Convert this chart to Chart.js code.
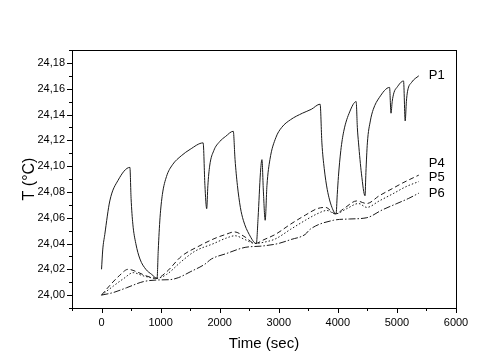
<!DOCTYPE html>
<html>
<head>
<meta charset="utf-8">
<script src="https://cdn.jsdelivr.net/npm/chart.js@4.4.1/dist/chart.umd.min.js"></script>
<style>
  html, body { margin:0; padding:0; background:#fff; }
  #wrap { width:502px; height:363px; }
</style>
</head>
<body>
<div id="wrap"><canvas id="chart" width="502" height="363"></canvas></div>
<script>
/* temperature at the probes vs time */
const p1Time = [0, 20, 55, 140, 280, 480, 500, 530, 580, 650, 750, 850, 940,
  960, 990, 1030, 1100, 1200, 1350, 1500, 1720, 1750, 1780, 1800, 1830, 1900, 2000, 2100, 2230,
  2260, 2300, 2350, 2400, 2500, 2620, 2650, 2690, 2715, 2740, 2770, 2800, 2850, 2950, 3050, 3200,
  3400, 3550, 3700, 3730, 3770, 3820, 3900, 3970, 3990, 4010, 4050, 4100, 4200, 4310, 4330, 4350,
  4400, 4460, 4475, 4500, 4550, 4600, 4700, 4875, 4900, 4920, 4950, 5000, 5112, 5140, 5160, 5180,
  5250, 5370];
const p1Temp = [24.020, 24.035, 24.047, 24.073, 24.089, 24.099, 24.075, 24.055, 24.040, 24.028, 24.020, 24.016, 24.013,
  24.035, 24.060, 24.078, 24.092, 24.101, 24.108, 24.113, 24.118, 24.085, 24.067, 24.085, 24.100, 24.112, 24.119, 24.123, 24.127,
  24.105, 24.085, 24.068, 24.058, 24.047, 24.040, 24.060, 24.095, 24.105, 24.080, 24.058, 24.085, 24.105, 24.122, 24.130, 24.136,
  24.141, 24.144, 24.148, 24.118, 24.098, 24.082, 24.068, 24.063, 24.078, 24.092, 24.112, 24.127, 24.142, 24.150, 24.130, 24.118,
  24.094, 24.077, 24.095, 24.118, 24.135, 24.144, 24.153, 24.161, 24.141, 24.150, 24.157, 24.161, 24.166, 24.135, 24.150, 24.158,
  24.165, 24.170];

const p4Time = [0, 150, 300, 450, 600, 750, 930, 1100, 1350, 1650, 1920, 2100, 2250, 2430, 2600, 2750, 2940,
  3200, 3450, 3650, 3790, 3960, 4100, 4320, 4490, 4700, 4900, 5100, 5370];
const p4Temp = [24.000, 24.008, 24.015, 24.020, 24.018, 24.015, 24.013, 24.018, 24.030, 24.038, 24.044, 24.047, 24.049, 24.045, 24.040, 24.043, 24.047,
  24.055, 24.062, 24.067, 24.068, 24.063, 24.067, 24.073, 24.071, 24.077, 24.082, 24.087, 24.093];

const p5Time = [0, 200, 380, 536, 700, 930, 1100, 1350, 1580, 1900, 2100, 2260, 2430, 2600, 2750, 2940,
  3200, 3450, 3650, 3815, 3960, 4150, 4350, 4490, 4700, 4950, 5150, 5370];
const p5Temp = [24.000, 24.007, 24.013, 24.0174, 24.015, 24.013, 24.016, 24.026, 24.034, 24.040, 24.044, 24.046, 24.043, 24.040, 24.041, 24.0435,
  24.051, 24.058, 24.063, 24.0656, 24.063, 24.067, 24.071, 24.068, 24.073, 24.079, 24.084, 24.088];

const p6Time = [0, 200, 424, 705, 930, 1160, 1300, 1500, 1750, 1860, 2100, 2430, 2712, 2994, 3200, 3446,
  3530, 3925, 4200, 4491, 4750, 5000, 5200, 5370];
const p6Temp = [24.000, 24.002, 24.0057, 24.0104, 24.0117, 24.012, 24.0135, 24.018, 24.024, 24.028, 24.032, 24.037, 24.038, 24.040, 24.043, 24.047,
  24.051, 24.058, 24.059, 24.060, 24.066, 24.071, 24.075, 24.079];

const seriesNames = ["P1", "P4", "P5", "P6"];
// offset of each end label from the curve end (°C)
const labelShift = [0, 0.009, 0.003, 0];

const X_MIN = -500, X_MAX = 6000, Y_MIN = 23.99, Y_MAX = 24.19;
const FONT = "'Liberation Sans', Arial, sans-serif";

function pts(ts, vs) { return ts.map((t, i) => ({ x: t, y: vs[i] })); }

const dashes = [[], [5, 3], [1.5, 2], [7, 2, 1.5, 2]];
const allData = [pts(p1Time, p1Temp), pts(p4Time, p4Temp), pts(p5Time, p5Temp), pts(p6Time, p6Temp)];

const datasets = allData.map((d, i) => ({
  label: seriesNames[i],
  data: d,
  showLine: true,
  borderColor: "#1a1a1a",
  borderWidth: 1,
  borderDash: dashes[i],
  pointRadius: 0,
  cubicInterpolationMode: "monotone",
  fill: false
}));

// frame, outward ticks and end labels
const framePlugin = {
  id: "frame",
  afterDraw(chart) {
    const { ctx, chartArea: a, scales } = chart;
    ctx.save();
    ctx.strokeStyle = "#000";
    ctx.lineWidth = 1;
    ctx.strokeRect(Math.round(a.left) + 0.5, Math.round(a.top) + 0.5,
      Math.round(a.right - a.left), Math.round(a.bottom - a.top));
    ctx.beginPath();
    scales.y.ticks.forEach(t => {
      const k = Math.round(t.value * 100);
      const len = k % 2 === 0 ? 5 : 3;
      const py = Math.round(scales.y.getPixelForValue(t.value)) + 0.5;
      ctx.moveTo(a.left, py); ctx.lineTo(a.left - len, py);
    });
    scales.x.ticks.forEach(t => {
      const len = Math.round(t.value) % 1000 === 0 ? 5 : 3;
      const px = Math.round(scales.x.getPixelForValue(t.value)) + 0.5;
      ctx.moveTo(px, a.bottom); ctx.lineTo(px, a.bottom + len);
    });
    ctx.stroke();

    ctx.fillStyle = "#000";
    ctx.font = "13px " + FONT;
    ctx.textBaseline = "middle";
    ctx.textAlign = "left";
    allData.forEach((d, i) => {
      const last = d[d.length - 1];
      const px = scales.x.getPixelForValue(last.x) + 10;
      const py = scales.y.getPixelForValue(last.y + labelShift[i]);
      ctx.fillText(seriesNames[i], px, py);
    });
    ctx.restore();
  }
};

new Chart(document.getElementById("chart"), {
  type: "scatter",
  data: { datasets },
  options: {
    responsive: false,
    animation: false,
    layout: { padding: { top: 50, right: 46, left: 0, bottom: 0 } },
    plugins: { legend: { display: false }, tooltip: { enabled: false } },
    scales: {
      x: {
        type: "linear", min: X_MIN, max: X_MAX,
        grid: { display: false, drawTicks: false }, border: { display: false },
        ticks: {
          stepSize: 500, autoSkip: false, maxRotation: 0, padding: 8,
          color: "#000", font: { family: FONT, size: 11 },
          callback: v => (v >= 0 && Math.round(v) % 1000 === 0) ? String(Math.round(v)) : ""
        },
        title: { display: true, text: "Time (sec)", color: "#000",
          font: { family: FONT, size: 15 }, padding: { top: 4, bottom: 10 } },
        afterFit: s => { s.height = 55; }
      },
      y: {
        type: "linear", min: Y_MIN, max: Y_MAX,
        grid: { display: false, drawTicks: false }, border: { display: false },
        ticks: {
          stepSize: 0.01, autoSkip: false, padding: 7,
          color: "#000", font: { family: FONT, size: 11 },
          callback: v => {
            const k = Math.round(v * 100);
            return (k % 2 === 0 && k >= 2400 && k <= 2418) ? (k / 100).toFixed(2).replace(".", ",") : "";
          }
        },
        title: { display: true, text: "T (°C)", color: "#000",
          font: { family: FONT, size: 16 }, padding: { top: 20, bottom: 4 } },
        afterFit: s => { s.width = 72; }
      }
    }
  },
  plugins: [framePlugin]
});
</script>
</body>
</html>
